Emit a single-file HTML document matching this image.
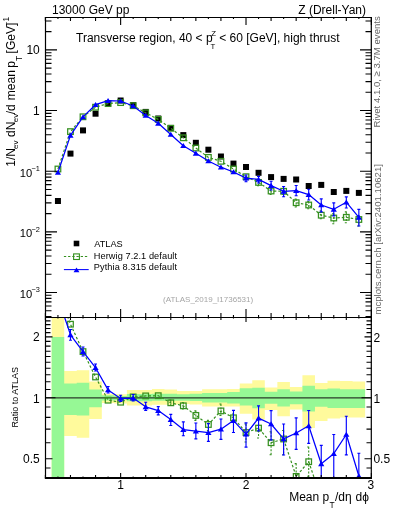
<!DOCTYPE html><html><head><meta charset="utf-8"><style>html,body{margin:0;padding:0;background:#fff;overflow:hidden}svg{display:block;will-change:transform}text{font-family:"Liberation Sans",sans-serif}</style></head><body>
<svg width="393" height="512" viewBox="0 0 393 512">
<defs><clipPath id="cm"><rect x="45.5" y="17.0" width="326.0" height="300.0"/></clipPath><clipPath id="cr"><rect x="45.5" y="317.0" width="326.0" height="161.0"/></clipPath></defs>
<g clip-path="url(#cr)">
<path d="M51.67 300.00H64.21V500.00H51.67ZM64.21 371.00H76.75V436.00H64.21ZM76.74 370.20H89.28V437.80H76.74ZM89.28 381.40H101.82V419.00H89.28ZM101.82 393.70H114.36V403.00H101.82ZM114.36 394.20H126.90V403.50H114.36ZM126.90 390.10H139.44V405.60H126.90ZM139.43 390.10H151.97V405.60H139.43ZM151.97 389.00H164.51V404.70H151.97ZM164.51 389.60H177.05V404.70H164.51ZM177.05 391.00H189.59V404.00H177.05ZM189.59 390.90H202.12V404.50H189.59ZM202.12 389.20H214.66V406.60H202.12ZM214.66 389.20H227.20V406.60H214.66ZM227.20 389.00H239.74V406.60H227.20ZM239.74 383.40H252.28V413.80H239.74ZM252.28 380.30H264.81V419.50H252.28ZM264.82 387.50H277.35V410.00H264.82ZM277.35 382.10H289.89V416.30H277.35ZM289.89 386.90H302.43V409.60H289.89ZM302.43 375.20H314.97V428.00H302.43ZM314.97 383.00H327.50V421.00H314.97ZM327.50 380.80H340.04V418.50H327.50ZM340.04 381.00H352.58V417.40H340.04ZM352.58 381.50H365.12V417.40H352.58Z" fill="#fffa9c"/>
<path d="M51.67 337.00H64.21V500.00H51.67ZM64.21 383.40H76.75V415.00H64.21ZM76.74 382.80H89.28V415.40H76.74ZM89.28 389.50H101.82V407.30H89.28ZM101.82 395.20H114.36V400.50H101.82ZM114.36 396.00H126.90V400.00H114.36ZM126.90 394.00H139.44V401.20H126.90ZM139.43 394.00H151.97V401.20H139.43ZM151.97 393.70H164.51V400.80H151.97ZM164.51 393.70H177.05V400.80H164.51ZM177.05 394.20H189.59V400.80H177.05ZM189.59 393.70H202.12V401.00H189.59ZM202.12 392.90H214.66V402.50H202.12ZM214.66 392.90H227.20V402.50H214.66ZM227.20 392.00H239.74V403.50H227.20ZM239.74 388.20H252.28V405.60H239.74ZM252.28 387.80H264.81V408.30H252.28ZM264.82 391.70H277.35V403.80H264.82ZM277.35 389.20H289.89V406.50H277.35ZM289.89 391.40H302.43V404.20H289.89ZM302.43 385.80H314.97V411.50H302.43ZM314.97 389.30H327.50V406.80H314.97ZM327.50 388.60H340.04V408.00H327.50ZM340.04 389.30H352.58V408.00H340.04ZM352.58 389.30H365.12V408.00H352.58Z" fill="#96f895"/>
<line x1="45.5" y1="397.8" x2="371.5" y2="397.8" stroke="#2a3a2a" stroke-width="1.2"/>
</g>
<g clip-path="url(#cr)">
<path d="M170.78 400.00V405.50M169.28 400.00h3M169.28 405.50h3" stroke="#35901f" stroke-width="1.1" fill="none" stroke-dasharray="2,1.5"/>
<path d="M183.32 402.50V409.00M181.82 402.50h3M181.82 409.00h3" stroke="#35901f" stroke-width="1.1" fill="none" stroke-dasharray="2,1.5"/>
<path d="M195.86 410.90V420.40M194.36 410.90h3M194.36 420.40h3" stroke="#35901f" stroke-width="1.1" fill="none" stroke-dasharray="2,1.5"/>
<path d="M208.39 420.40V430.60M206.89 420.40h3M206.89 430.60h3" stroke="#35901f" stroke-width="1.1" fill="none" stroke-dasharray="2,1.5"/>
<path d="M220.93 404.00V415.40M219.43 404.00h3M219.43 415.40h3" stroke="#35901f" stroke-width="1.1" fill="none" stroke-dasharray="2,1.5"/>
<path d="M233.47 414.00V421.60M231.97 414.00h3M231.97 421.60h3" stroke="#35901f" stroke-width="1.1" fill="none" stroke-dasharray="2,1.5"/>
<path d="M246.01 424.00V442.00M244.51 424.00h3M244.51 442.00h3" stroke="#35901f" stroke-width="1.1" fill="none" stroke-dasharray="2,1.5"/>
<path d="M258.55 420.00V438.00M257.05 420.00h3M257.05 438.00h3" stroke="#35901f" stroke-width="1.1" fill="none" stroke-dasharray="2,1.5"/>
<path d="M271.08 431.80V454.70M269.58 431.80h3M269.58 454.70h3" stroke="#35901f" stroke-width="1.1" fill="none" stroke-dasharray="2,1.5"/>
<path d="M283.62 430.50V454.70M282.12 430.50h3M282.12 454.70h3" stroke="#35901f" stroke-width="1.1" fill="none" stroke-dasharray="2,1.5"/>
<path d="M296.16 463.60V490.00M294.66 463.60h3M294.66 490.00h3" stroke="#35901f" stroke-width="1.1" fill="none" stroke-dasharray="2,1.5"/>
<path d="M308.70 447.00V476.30M307.20 447.00h3M307.20 476.30h3" stroke="#35901f" stroke-width="1.1" fill="none" stroke-dasharray="2,1.5"/>
<polyline points="57.94,291.00 70.48,324.20 83.01,351.60 95.55,377.00 108.09,400.20 120.63,402.20 133.17,396.90 145.70,395.90 158.24,395.70 170.78,402.80 183.32,405.80 195.86,415.40 208.39,424.50 220.93,410.90 233.47,417.80 246.01,432.60 258.55,428.10 271.08,442.70 283.62,439.00 296.16,476.40 308.70,461.70 321.24,498.70 333.77,485.00 346.31,485.00 358.85,490.00" fill="none" stroke="#35901f" stroke-width="1.2" stroke-dasharray="2.5,2" stroke-linejoin="round"/>
<rect x="55.14" y="288.20" width="5.60" height="5.60" fill="none" stroke="#35901f" stroke-width="1.25"/>
<rect x="67.68" y="321.40" width="5.60" height="5.60" fill="none" stroke="#35901f" stroke-width="1.25"/>
<rect x="80.21" y="348.80" width="5.60" height="5.60" fill="none" stroke="#35901f" stroke-width="1.25"/>
<rect x="92.75" y="374.20" width="5.60" height="5.60" fill="none" stroke="#35901f" stroke-width="1.25"/>
<rect x="105.29" y="397.40" width="5.60" height="5.60" fill="none" stroke="#35901f" stroke-width="1.25"/>
<rect x="117.83" y="399.40" width="5.60" height="5.60" fill="none" stroke="#35901f" stroke-width="1.25"/>
<rect x="130.37" y="394.10" width="5.60" height="5.60" fill="none" stroke="#35901f" stroke-width="1.25"/>
<rect x="142.90" y="393.10" width="5.60" height="5.60" fill="none" stroke="#35901f" stroke-width="1.25"/>
<rect x="155.44" y="392.90" width="5.60" height="5.60" fill="none" stroke="#35901f" stroke-width="1.25"/>
<rect x="167.98" y="400.00" width="5.60" height="5.60" fill="none" stroke="#35901f" stroke-width="1.25"/>
<rect x="180.52" y="403.00" width="5.60" height="5.60" fill="none" stroke="#35901f" stroke-width="1.25"/>
<rect x="193.06" y="412.60" width="5.60" height="5.60" fill="none" stroke="#35901f" stroke-width="1.25"/>
<rect x="205.59" y="421.70" width="5.60" height="5.60" fill="none" stroke="#35901f" stroke-width="1.25"/>
<rect x="218.13" y="408.10" width="5.60" height="5.60" fill="none" stroke="#35901f" stroke-width="1.25"/>
<rect x="230.67" y="415.00" width="5.60" height="5.60" fill="none" stroke="#35901f" stroke-width="1.25"/>
<rect x="243.21" y="429.80" width="5.60" height="5.60" fill="none" stroke="#35901f" stroke-width="1.25"/>
<rect x="255.75" y="425.30" width="5.60" height="5.60" fill="none" stroke="#35901f" stroke-width="1.25"/>
<rect x="268.28" y="439.90" width="5.60" height="5.60" fill="none" stroke="#35901f" stroke-width="1.25"/>
<rect x="280.82" y="436.20" width="5.60" height="5.60" fill="none" stroke="#35901f" stroke-width="1.25"/>
<rect x="293.36" y="473.60" width="5.60" height="5.60" fill="none" stroke="#35901f" stroke-width="1.25"/>
<rect x="305.90" y="458.90" width="5.60" height="5.60" fill="none" stroke="#35901f" stroke-width="1.25"/>
<rect x="318.44" y="495.90" width="5.60" height="5.60" fill="none" stroke="#35901f" stroke-width="1.25"/>
<rect x="330.97" y="482.20" width="5.60" height="5.60" fill="none" stroke="#35901f" stroke-width="1.25"/>
<rect x="343.51" y="482.20" width="5.60" height="5.60" fill="none" stroke="#35901f" stroke-width="1.25"/>
<rect x="356.05" y="487.20" width="5.60" height="5.60" fill="none" stroke="#35901f" stroke-width="1.25"/>
<path d="M70.48 329.50V340.20M68.98 329.50h3M68.98 340.20h3" stroke="#0000ff" stroke-width="1.15" fill="none"/>
<path d="M83.01 347.00V356.00M81.51 347.00h3M81.51 356.00h3" stroke="#0000ff" stroke-width="1.15" fill="none"/>
<path d="M95.55 364.00V371.00M94.05 364.00h3M94.05 371.00h3" stroke="#0000ff" stroke-width="1.15" fill="none"/>
<path d="M108.09 386.50V393.00M106.59 386.50h3M106.59 393.00h3" stroke="#0000ff" stroke-width="1.15" fill="none"/>
<path d="M120.63 395.20V401.30M119.13 395.20h3M119.13 401.30h3" stroke="#0000ff" stroke-width="1.15" fill="none"/>
<path d="M133.17 394.50V400.90M131.67 394.50h3M131.67 400.90h3" stroke="#0000ff" stroke-width="1.15" fill="none"/>
<path d="M145.70 402.20V410.40M144.20 402.20h3M144.20 410.40h3" stroke="#0000ff" stroke-width="1.15" fill="none"/>
<path d="M158.24 406.60V414.90M156.74 406.60h3M156.74 414.90h3" stroke="#0000ff" stroke-width="1.15" fill="none"/>
<path d="M170.78 414.30V425.50M169.28 414.30h3M169.28 425.50h3" stroke="#0000ff" stroke-width="1.15" fill="none"/>
<path d="M183.32 421.90V435.70M181.82 421.90h3M181.82 435.70h3" stroke="#0000ff" stroke-width="1.15" fill="none"/>
<path d="M195.86 423.00V438.80M194.36 423.00h3M194.36 438.80h3" stroke="#0000ff" stroke-width="1.15" fill="none"/>
<path d="M208.39 423.50V441.40M206.89 423.50h3M206.89 441.40h3" stroke="#0000ff" stroke-width="1.15" fill="none"/>
<path d="M220.93 419.00V439.40M219.43 419.00h3M219.43 439.40h3" stroke="#0000ff" stroke-width="1.15" fill="none"/>
<path d="M233.47 410.30V432.50M231.97 410.30h3M231.97 432.50h3" stroke="#0000ff" stroke-width="1.15" fill="none"/>
<path d="M246.01 422.80V447.10M244.51 422.80h3M244.51 447.10h3" stroke="#0000ff" stroke-width="1.15" fill="none"/>
<path d="M258.55 405.80V431.00M257.05 405.80h3M257.05 431.00h3" stroke="#0000ff" stroke-width="1.15" fill="none"/>
<path d="M271.08 410.60V439.80M269.58 410.60h3M269.58 439.80h3" stroke="#0000ff" stroke-width="1.15" fill="none"/>
<path d="M283.62 424.00V455.00M282.12 424.00h3M282.12 455.00h3" stroke="#0000ff" stroke-width="1.15" fill="none"/>
<path d="M296.16 417.90V449.30M294.66 417.90h3M294.66 449.30h3" stroke="#0000ff" stroke-width="1.15" fill="none"/>
<path d="M308.70 410.50V443.40M307.20 410.50h3M307.20 443.40h3" stroke="#0000ff" stroke-width="1.15" fill="none"/>
<path d="M321.24 445.40V490.00M319.74 445.40h3M319.74 490.00h3" stroke="#0000ff" stroke-width="1.15" fill="none"/>
<path d="M333.77 434.50V490.00M332.27 434.50h3M332.27 490.00h3" stroke="#0000ff" stroke-width="1.15" fill="none"/>
<path d="M346.31 416.20V454.80M344.81 416.20h3M344.81 454.80h3" stroke="#0000ff" stroke-width="1.15" fill="none"/>
<path d="M358.85 453.20V495.00M357.35 453.20h3M357.35 495.00h3" stroke="#0000ff" stroke-width="1.15" fill="none"/>
<polyline points="57.94,297.50 70.48,334.80 83.01,351.60 95.55,367.70 108.09,389.90 120.63,398.40 133.17,398.10 145.70,406.80 158.24,410.60 170.78,419.60 183.32,429.60 195.86,431.20 208.39,432.70 220.93,429.20 233.47,420.60 246.01,434.20 258.55,418.10 271.08,424.00 283.62,438.90 296.16,433.00 308.70,425.80 321.24,463.80 333.77,453.70 346.31,434.50 358.85,476.00" fill="none" stroke="#0000ff" stroke-width="1.25" stroke-linejoin="round"/>
<path d="M57.94 294.75L61.04 299.84L54.84 299.84Z" fill="#0000ff"/>
<path d="M70.48 332.05L73.58 337.14L67.38 337.14Z" fill="#0000ff"/>
<path d="M83.01 348.85L86.11 353.94L79.91 353.94Z" fill="#0000ff"/>
<path d="M95.55 364.95L98.65 370.04L92.45 370.04Z" fill="#0000ff"/>
<path d="M108.09 387.15L111.19 392.24L104.99 392.24Z" fill="#0000ff"/>
<path d="M120.63 395.65L123.73 400.74L117.53 400.74Z" fill="#0000ff"/>
<path d="M133.17 395.35L136.27 400.44L130.07 400.44Z" fill="#0000ff"/>
<path d="M145.70 404.05L148.80 409.14L142.60 409.14Z" fill="#0000ff"/>
<path d="M158.24 407.85L161.34 412.94L155.14 412.94Z" fill="#0000ff"/>
<path d="M170.78 416.85L173.88 421.94L167.68 421.94Z" fill="#0000ff"/>
<path d="M183.32 426.85L186.42 431.94L180.22 431.94Z" fill="#0000ff"/>
<path d="M195.86 428.45L198.96 433.54L192.76 433.54Z" fill="#0000ff"/>
<path d="M208.39 429.95L211.49 435.04L205.29 435.04Z" fill="#0000ff"/>
<path d="M220.93 426.45L224.03 431.54L217.83 431.54Z" fill="#0000ff"/>
<path d="M233.47 417.85L236.57 422.94L230.37 422.94Z" fill="#0000ff"/>
<path d="M246.01 431.45L249.11 436.54L242.91 436.54Z" fill="#0000ff"/>
<path d="M258.55 415.35L261.65 420.44L255.45 420.44Z" fill="#0000ff"/>
<path d="M271.08 421.25L274.18 426.34L267.98 426.34Z" fill="#0000ff"/>
<path d="M283.62 436.15L286.72 441.24L280.52 441.24Z" fill="#0000ff"/>
<path d="M296.16 430.25L299.26 435.34L293.06 435.34Z" fill="#0000ff"/>
<path d="M308.70 423.05L311.80 428.14L305.60 428.14Z" fill="#0000ff"/>
<path d="M321.24 461.05L324.34 466.14L318.14 466.14Z" fill="#0000ff"/>
<path d="M333.77 450.95L336.87 456.04L330.67 456.04Z" fill="#0000ff"/>
<path d="M346.31 431.75L349.41 436.84L343.21 436.84Z" fill="#0000ff"/>
<path d="M358.85 473.25L361.95 478.34L355.75 478.34Z" fill="#0000ff"/>
</g>
<g clip-path="url(#cm)">
<rect x="54.94" y="198.00" width="6.00" height="6.00" fill="#000"/>
<rect x="67.48" y="150.60" width="6.00" height="6.00" fill="#000"/>
<rect x="80.01" y="127.40" width="6.00" height="6.00" fill="#000"/>
<rect x="92.55" y="110.70" width="6.00" height="6.00" fill="#000"/>
<rect x="105.09" y="100.20" width="6.00" height="6.00" fill="#000"/>
<rect x="117.63" y="97.50" width="6.00" height="6.00" fill="#000"/>
<rect x="130.17" y="102.10" width="6.00" height="6.00" fill="#000"/>
<rect x="142.70" y="108.90" width="6.00" height="6.00" fill="#000"/>
<rect x="155.24" y="115.50" width="6.00" height="6.00" fill="#000"/>
<rect x="167.78" y="124.90" width="6.00" height="6.00" fill="#000"/>
<rect x="180.32" y="132.10" width="6.00" height="6.00" fill="#000"/>
<rect x="192.86" y="139.80" width="6.00" height="6.00" fill="#000"/>
<rect x="205.39" y="146.70" width="6.00" height="6.00" fill="#000"/>
<rect x="217.93" y="153.50" width="6.00" height="6.00" fill="#000"/>
<rect x="230.47" y="160.60" width="6.00" height="6.00" fill="#000"/>
<rect x="243.01" y="164.00" width="6.00" height="6.00" fill="#000"/>
<rect x="255.55" y="169.80" width="6.00" height="6.00" fill="#000"/>
<rect x="268.08" y="174.10" width="6.00" height="6.00" fill="#000"/>
<rect x="280.62" y="175.90" width="6.00" height="6.00" fill="#000"/>
<rect x="293.16" y="176.50" width="6.00" height="6.00" fill="#000"/>
<rect x="305.70" y="183.00" width="6.00" height="6.00" fill="#000"/>
<rect x="318.24" y="181.90" width="6.00" height="6.00" fill="#000"/>
<rect x="330.77" y="189.00" width="6.00" height="6.00" fill="#000"/>
<rect x="343.31" y="187.90" width="6.00" height="6.00" fill="#000"/>
<rect x="355.85" y="189.90" width="6.00" height="6.00" fill="#000"/>
<path d="M258.55 180.00V185.60M257.05 180.00h3M257.05 185.60h3" stroke="#35901f" stroke-width="1.1" fill="none" stroke-dasharray="2,1.5"/>
<path d="M271.08 187.40V194.50M269.58 187.40h3M269.58 194.50h3" stroke="#35901f" stroke-width="1.1" fill="none" stroke-dasharray="2,1.5"/>
<path d="M283.62 188.30V194.50M282.12 188.30h3M282.12 194.50h3" stroke="#35901f" stroke-width="1.1" fill="none" stroke-dasharray="2,1.5"/>
<path d="M296.16 199.00V207.00M294.66 199.00h3M294.66 207.00h3" stroke="#35901f" stroke-width="1.1" fill="none" stroke-dasharray="2,1.5"/>
<path d="M308.70 201.50V208.70M307.20 201.50h3M307.20 208.70h3" stroke="#35901f" stroke-width="1.1" fill="none" stroke-dasharray="2,1.5"/>
<path d="M321.24 210.80V218.80M319.74 210.80h3M319.74 218.80h3" stroke="#35901f" stroke-width="1.1" fill="none" stroke-dasharray="2,1.5"/>
<path d="M333.77 213.60V223.80M332.27 213.60h3M332.27 223.80h3" stroke="#35901f" stroke-width="1.1" fill="none" stroke-dasharray="2,1.5"/>
<path d="M346.31 211.90V222.70M344.81 211.90h3M344.81 222.70h3" stroke="#35901f" stroke-width="1.1" fill="none" stroke-dasharray="2,1.5"/>
<path d="M358.85 215.80V226.00M357.35 215.80h3M357.35 226.00h3" stroke="#35901f" stroke-width="1.1" fill="none" stroke-dasharray="2,1.5"/>
<polyline points="57.94,169.00 70.48,131.60 83.01,116.80 95.55,107.20 108.09,103.60 120.63,102.60 133.17,105.70 145.70,112.80 158.24,119.40 170.78,128.30 183.32,137.80 195.86,148.00 208.39,157.40 220.93,161.30 233.47,169.00 246.01,176.70 258.55,182.40 271.08,191.00 283.62,191.30 296.16,202.70 308.70,205.00 321.24,215.20 333.77,218.00 346.31,217.30 358.85,219.50" fill="none" stroke="#35901f" stroke-width="1.2" stroke-dasharray="2.5,2" stroke-linejoin="round"/>
<rect x="55.14" y="166.20" width="5.60" height="5.60" fill="none" stroke="#35901f" stroke-width="1.25"/>
<rect x="67.68" y="128.80" width="5.60" height="5.60" fill="none" stroke="#35901f" stroke-width="1.25"/>
<rect x="80.21" y="114.00" width="5.60" height="5.60" fill="none" stroke="#35901f" stroke-width="1.25"/>
<rect x="92.75" y="104.40" width="5.60" height="5.60" fill="none" stroke="#35901f" stroke-width="1.25"/>
<rect x="105.29" y="100.80" width="5.60" height="5.60" fill="none" stroke="#35901f" stroke-width="1.25"/>
<rect x="117.83" y="99.80" width="5.60" height="5.60" fill="none" stroke="#35901f" stroke-width="1.25"/>
<rect x="130.37" y="102.90" width="5.60" height="5.60" fill="none" stroke="#35901f" stroke-width="1.25"/>
<rect x="142.90" y="110.00" width="5.60" height="5.60" fill="none" stroke="#35901f" stroke-width="1.25"/>
<rect x="155.44" y="116.60" width="5.60" height="5.60" fill="none" stroke="#35901f" stroke-width="1.25"/>
<rect x="167.98" y="125.50" width="5.60" height="5.60" fill="none" stroke="#35901f" stroke-width="1.25"/>
<rect x="180.52" y="135.00" width="5.60" height="5.60" fill="none" stroke="#35901f" stroke-width="1.25"/>
<rect x="193.06" y="145.20" width="5.60" height="5.60" fill="none" stroke="#35901f" stroke-width="1.25"/>
<rect x="205.59" y="154.60" width="5.60" height="5.60" fill="none" stroke="#35901f" stroke-width="1.25"/>
<rect x="218.13" y="158.50" width="5.60" height="5.60" fill="none" stroke="#35901f" stroke-width="1.25"/>
<rect x="230.67" y="166.20" width="5.60" height="5.60" fill="none" stroke="#35901f" stroke-width="1.25"/>
<rect x="243.21" y="173.90" width="5.60" height="5.60" fill="none" stroke="#35901f" stroke-width="1.25"/>
<rect x="255.75" y="179.60" width="5.60" height="5.60" fill="none" stroke="#35901f" stroke-width="1.25"/>
<rect x="268.28" y="188.20" width="5.60" height="5.60" fill="none" stroke="#35901f" stroke-width="1.25"/>
<rect x="280.82" y="188.50" width="5.60" height="5.60" fill="none" stroke="#35901f" stroke-width="1.25"/>
<rect x="293.36" y="199.90" width="5.60" height="5.60" fill="none" stroke="#35901f" stroke-width="1.25"/>
<rect x="305.90" y="202.20" width="5.60" height="5.60" fill="none" stroke="#35901f" stroke-width="1.25"/>
<rect x="318.44" y="212.40" width="5.60" height="5.60" fill="none" stroke="#35901f" stroke-width="1.25"/>
<rect x="330.97" y="215.20" width="5.60" height="5.60" fill="none" stroke="#35901f" stroke-width="1.25"/>
<rect x="343.51" y="214.50" width="5.60" height="5.60" fill="none" stroke="#35901f" stroke-width="1.25"/>
<rect x="356.05" y="216.70" width="5.60" height="5.60" fill="none" stroke="#35901f" stroke-width="1.25"/>
<path d="M246.01 175.00V181.70M244.51 175.00h3M244.51 181.70h3" stroke="#0000ff" stroke-width="1.15" fill="none"/>
<path d="M258.55 176.40V183.00M257.05 176.40h3M257.05 183.00h3" stroke="#0000ff" stroke-width="1.15" fill="none"/>
<path d="M271.08 181.20V190.00M269.58 181.20h3M269.58 190.00h3" stroke="#0000ff" stroke-width="1.15" fill="none"/>
<path d="M283.62 186.50V196.70M282.12 186.50h3M282.12 196.70h3" stroke="#0000ff" stroke-width="1.15" fill="none"/>
<path d="M296.16 185.50V195.70M294.66 185.50h3M294.66 195.70h3" stroke="#0000ff" stroke-width="1.15" fill="none"/>
<path d="M308.70 189.20V200.00M307.20 189.20h3M307.20 200.00h3" stroke="#0000ff" stroke-width="1.15" fill="none"/>
<path d="M321.24 198.90V211.90M319.74 198.90h3M319.74 211.90h3" stroke="#0000ff" stroke-width="1.15" fill="none"/>
<path d="M333.77 202.80V215.80M332.27 202.80h3M332.27 215.80h3" stroke="#0000ff" stroke-width="1.15" fill="none"/>
<path d="M346.31 196.80V208.00M344.81 196.80h3M344.81 208.00h3" stroke="#0000ff" stroke-width="1.15" fill="none"/>
<path d="M358.85 209.30V226.00M357.35 209.30h3M357.35 226.00h3" stroke="#0000ff" stroke-width="1.15" fill="none"/>
<polyline points="57.94,172.50 70.48,135.40 83.01,116.90 95.55,104.70 108.09,100.70 120.63,101.00 133.17,106.00 145.70,115.50 158.24,123.30 170.78,134.50 183.32,145.70 195.86,153.30 208.39,161.00 220.93,167.20 233.47,172.00 246.01,178.10 258.55,179.40 271.08,185.60 283.62,191.30 296.16,190.70 308.70,194.60 321.24,205.00 333.77,209.30 346.31,202.20 358.85,217.30" fill="none" stroke="#0000ff" stroke-width="1.25" stroke-linejoin="round"/>
<path d="M57.94 169.75L61.04 174.84L54.84 174.84Z" fill="#0000ff"/>
<path d="M70.48 132.65L73.58 137.74L67.38 137.74Z" fill="#0000ff"/>
<path d="M83.01 114.15L86.11 119.24L79.91 119.24Z" fill="#0000ff"/>
<path d="M95.55 101.95L98.65 107.04L92.45 107.04Z" fill="#0000ff"/>
<path d="M108.09 97.95L111.19 103.04L104.99 103.04Z" fill="#0000ff"/>
<path d="M120.63 98.25L123.73 103.34L117.53 103.34Z" fill="#0000ff"/>
<path d="M133.17 103.25L136.27 108.34L130.07 108.34Z" fill="#0000ff"/>
<path d="M145.70 112.75L148.80 117.84L142.60 117.84Z" fill="#0000ff"/>
<path d="M158.24 120.55L161.34 125.64L155.14 125.64Z" fill="#0000ff"/>
<path d="M170.78 131.75L173.88 136.84L167.68 136.84Z" fill="#0000ff"/>
<path d="M183.32 142.95L186.42 148.04L180.22 148.04Z" fill="#0000ff"/>
<path d="M195.86 150.55L198.96 155.64L192.76 155.64Z" fill="#0000ff"/>
<path d="M208.39 158.25L211.49 163.34L205.29 163.34Z" fill="#0000ff"/>
<path d="M220.93 164.45L224.03 169.54L217.83 169.54Z" fill="#0000ff"/>
<path d="M233.47 169.25L236.57 174.34L230.37 174.34Z" fill="#0000ff"/>
<path d="M246.01 175.35L249.11 180.44L242.91 180.44Z" fill="#0000ff"/>
<path d="M258.55 176.65L261.65 181.74L255.45 181.74Z" fill="#0000ff"/>
<path d="M271.08 182.85L274.18 187.94L267.98 187.94Z" fill="#0000ff"/>
<path d="M283.62 188.55L286.72 193.64L280.52 193.64Z" fill="#0000ff"/>
<path d="M296.16 187.95L299.26 193.04L293.06 193.04Z" fill="#0000ff"/>
<path d="M308.70 191.85L311.80 196.94L305.60 196.94Z" fill="#0000ff"/>
<path d="M321.24 202.25L324.34 207.34L318.14 207.34Z" fill="#0000ff"/>
<path d="M333.77 206.55L336.87 211.64L330.67 211.64Z" fill="#0000ff"/>
<path d="M346.31 199.45L349.41 204.54L343.21 204.54Z" fill="#0000ff"/>
<path d="M358.85 214.55L361.95 219.64L355.75 219.64Z" fill="#0000ff"/>
</g>
<path d="M45.5 17.5H371.3M45.5 317.5H371.3" stroke="#000" stroke-width="1.15" fill="none"/>
<path d="M45.5 16.9V478.9M371.3 16.9V478.9" stroke="#000" stroke-width="1.2" fill="none"/>
<path d="M44.9 478H371.9" stroke="#000" stroke-width="1.9" fill="none"/>
<path d="M45.5 316.64h6.0M371.5 316.64h-6.0M45.5 310.76h6.0M371.5 310.76h-6.0M45.5 305.96h6.0M371.5 305.96h-6.0M45.5 301.89h6.0M371.5 301.89h-6.0M45.5 298.38h6.0M371.5 298.38h-6.0M45.5 295.28h6.0M371.5 295.28h-6.0M45.5 292.50h11.5M371.5 292.50h-11.5M45.5 274.24h6.0M371.5 274.24h-6.0M45.5 263.56h6.0M371.5 263.56h-6.0M45.5 255.99h6.0M371.5 255.99h-6.0M45.5 250.11h6.0M371.5 250.11h-6.0M45.5 245.31h6.0M371.5 245.31h-6.0M45.5 241.24h6.0M371.5 241.24h-6.0M45.5 237.73h6.0M371.5 237.73h-6.0M45.5 234.63h6.0M371.5 234.63h-6.0M45.5 231.85h11.5M371.5 231.85h-11.5M45.5 213.59h6.0M371.5 213.59h-6.0M45.5 202.91h6.0M371.5 202.91h-6.0M45.5 195.34h6.0M371.5 195.34h-6.0M45.5 189.46h6.0M371.5 189.46h-6.0M45.5 184.66h6.0M371.5 184.66h-6.0M45.5 180.59h6.0M371.5 180.59h-6.0M45.5 177.08h6.0M371.5 177.08h-6.0M45.5 173.98h6.0M371.5 173.98h-6.0M45.5 171.20h11.5M371.5 171.20h-11.5M45.5 152.94h6.0M371.5 152.94h-6.0M45.5 142.26h6.0M371.5 142.26h-6.0M45.5 134.69h6.0M371.5 134.69h-6.0M45.5 128.81h6.0M371.5 128.81h-6.0M45.5 124.01h6.0M371.5 124.01h-6.0M45.5 119.94h6.0M371.5 119.94h-6.0M45.5 116.43h6.0M371.5 116.43h-6.0M45.5 113.33h6.0M371.5 113.33h-6.0M45.5 110.55h11.5M371.5 110.55h-11.5M45.5 92.29h6.0M371.5 92.29h-6.0M45.5 81.61h6.0M371.5 81.61h-6.0M45.5 74.04h6.0M371.5 74.04h-6.0M45.5 68.16h6.0M371.5 68.16h-6.0M45.5 63.36h6.0M371.5 63.36h-6.0M45.5 59.29h6.0M371.5 59.29h-6.0M45.5 55.78h6.0M371.5 55.78h-6.0M45.5 52.68h6.0M371.5 52.68h-6.0M45.5 49.90h11.5M371.5 49.90h-11.5M45.5 31.64h6.0M371.5 31.64h-6.0M45.5 20.96h6.0M371.5 20.96h-6.0M45.5 467.96h5.0M371.5 467.96h-5.0M45.5 458.70h7.0M371.5 458.70h-7.0M45.5 442.68h5.0M371.5 442.68h-5.0M45.5 429.14h5.0M371.5 429.14h-5.0M45.5 417.41h5.0M371.5 417.41h-5.0M45.5 407.06h5.0M371.5 407.06h-5.0M45.5 397.80h10.0M371.5 397.80h-10.0M45.5 389.43h5.0M371.5 389.43h-5.0M45.5 381.78h5.0M371.5 381.78h-5.0M45.5 374.75h5.0M371.5 374.75h-5.0M45.5 368.24h5.0M371.5 368.24h-5.0M45.5 362.18h5.0M371.5 362.18h-5.0M45.5 356.51h5.0M371.5 356.51h-5.0M45.5 351.18h5.0M371.5 351.18h-5.0M45.5 346.16h5.0M371.5 346.16h-5.0M45.5 341.41h5.0M371.5 341.41h-5.0M45.5 336.90h7.0M371.5 336.90h-7.0M45.5 332.61h5.0M371.5 332.61h-5.0M45.5 328.53h5.0M371.5 328.53h-5.0M45.5 324.62h5.0M371.5 324.62h-5.0M45.5 320.88h5.0M371.5 320.88h-5.0M45.40 17.0v4.0M45.40 317.0v-4.0M45.40 317.0v3.0M45.40 478.0v-3.0M57.94 17.0v2.0M57.94 317.0v-2.0M57.94 317.0v1.5M57.94 478.0v-1.5M70.48 17.0v4.0M70.48 317.0v-4.0M70.48 317.0v3.0M70.48 478.0v-3.0M83.01 17.0v2.0M83.01 317.0v-2.0M83.01 317.0v1.5M83.01 478.0v-1.5M95.55 17.0v4.0M95.55 317.0v-4.0M95.55 317.0v3.0M95.55 478.0v-3.0M108.09 17.0v2.0M108.09 317.0v-2.0M108.09 317.0v1.5M108.09 478.0v-1.5M120.63 17.0v8.0M120.63 317.0v-8.0M120.63 317.0v5.0M120.63 478.0v-5.0M133.17 17.0v2.0M133.17 317.0v-2.0M133.17 317.0v1.5M133.17 478.0v-1.5M145.70 17.0v4.0M145.70 317.0v-4.0M145.70 317.0v3.0M145.70 478.0v-3.0M158.24 17.0v2.0M158.24 317.0v-2.0M158.24 317.0v1.5M158.24 478.0v-1.5M170.78 17.0v4.0M170.78 317.0v-4.0M170.78 317.0v3.0M170.78 478.0v-3.0M183.32 17.0v2.0M183.32 317.0v-2.0M183.32 317.0v1.5M183.32 478.0v-1.5M195.86 17.0v4.0M195.86 317.0v-4.0M195.86 317.0v3.0M195.86 478.0v-3.0M208.39 17.0v2.0M208.39 317.0v-2.0M208.39 317.0v1.5M208.39 478.0v-1.5M220.93 17.0v4.0M220.93 317.0v-4.0M220.93 317.0v3.0M220.93 478.0v-3.0M233.47 17.0v2.0M233.47 317.0v-2.0M233.47 317.0v1.5M233.47 478.0v-1.5M246.01 17.0v8.0M246.01 317.0v-8.0M246.01 317.0v5.0M246.01 478.0v-5.0M258.55 17.0v2.0M258.55 317.0v-2.0M258.55 317.0v1.5M258.55 478.0v-1.5M271.08 17.0v4.0M271.08 317.0v-4.0M271.08 317.0v3.0M271.08 478.0v-3.0M283.62 17.0v2.0M283.62 317.0v-2.0M283.62 317.0v1.5M283.62 478.0v-1.5M296.16 17.0v4.0M296.16 317.0v-4.0M296.16 317.0v3.0M296.16 478.0v-3.0M308.70 17.0v2.0M308.70 317.0v-2.0M308.70 317.0v1.5M308.70 478.0v-1.5M321.24 17.0v4.0M321.24 317.0v-4.0M321.24 317.0v3.0M321.24 478.0v-3.0M333.77 17.0v2.0M333.77 317.0v-2.0M333.77 317.0v1.5M333.77 478.0v-1.5M346.31 17.0v4.0M346.31 317.0v-4.0M346.31 317.0v3.0M346.31 478.0v-3.0M358.85 17.0v2.0M358.85 317.0v-2.0M358.85 317.0v1.5M358.85 478.0v-1.5M371.39 17.0v8.0M371.39 317.0v-8.0M371.39 317.0v5.0M371.39 478.0v-5.0" stroke="#000" stroke-width="1.1" fill="none"/>
<text x="52" y="14.2" font-size="12">13000 GeV pp</text>
<text x="366" y="14.2" font-size="12" text-anchor="end">Z (Drell-Yan)</text>
<text x="76" y="41.7" font-size="12">Transverse region, 40 &lt; p</text><text x="211.2" y="36.2" font-size="7.8">Z</text><text x="210.6" y="49" font-size="7.8">T</text><text x="219.2" y="41.7" font-size="12"> &lt; 60 [GeV], high thrust</text>
<text x="39.8" y="54.1" font-size="12" text-anchor="end">10</text>
<text x="39.8" y="114.9" font-size="12" text-anchor="end">1</text>
<text x="32.3" y="176.8" font-size="11.2" text-anchor="end">10</text><text x="31.4" y="171.2" font-size="7.4">&#8722;1</text>
<text x="32.3" y="237.2" font-size="11.2" text-anchor="end">10</text><text x="31.4" y="231.6" font-size="7.4">&#8722;2</text>
<text x="32.3" y="298.0" font-size="11.2" text-anchor="end">10</text><text x="31.4" y="292.4" font-size="7.4">&#8722;3</text>
<text x="39.8" y="341.4" font-size="12" text-anchor="end">2</text>
<text x="39.8" y="402.8" font-size="12" text-anchor="end">1</text>
<text x="39.8" y="462.8" font-size="12" text-anchor="end">0.5</text>
<text x="373.4" y="341.5" font-size="12">2</text>
<text x="373.4" y="403.0" font-size="12">1</text>
<text x="373.4" y="462.9" font-size="12">0.5</text>
<text x="120.6" y="488.8" font-size="12" text-anchor="middle">1</text>
<text x="246.2" y="488.8" font-size="12" text-anchor="middle">2</text>
<text x="374.2" y="488.8" font-size="12" text-anchor="end">3</text>
<text x="289.2" y="501.4" font-size="12">Mean p<tspan font-size="8.4" dy="6.3" dx="0.2">T</tspan><tspan dy="-6.3" dx="0.4">/d&#951;</tspan><tspan dx="0.5"> d&#981;</tspan></text>
<g transform="translate(14.9,0) rotate(-90)"><text x="-166.8" y="0.0" font-size="12">1/N</text><text x="-148.9" y="2.7" font-size="8">ev</text><text x="-137.0" y="0.0" font-size="12">dN</text><text x="-122.3" y="2.7" font-size="8">ev</text><text x="-114.3" y="0.0" font-size="12">/d</text><text x="-100.2" y="0.0" font-size="12">mean</text><text x="-67.8" y="0.0" font-size="12">p</text><text x="-61.0" y="6.9" font-size="8.4">T</text><text x="-53.4" y="0.0" font-size="12">[GeV]</text><text x="-26.0" y="-5.5" font-size="7">&#8722;</text><text x="-21.5" y="-5.5" font-size="8.4">1</text></g>
<text transform="translate(18.1,427.6) rotate(-90)" font-size="9.6" textLength="60.5" lengthAdjust="spacingAndGlyphs">Ratio to ATLAS</text>
<text transform="translate(380,127.6) rotate(-90)" font-size="9.6" fill="#666">Rivet 4.1.0, &#8805; 3.7M events</text>
<text transform="translate(380.5,314.5) rotate(-90)" font-size="9.6" fill="#666">mcplots.cern.ch [arXiv:2401.10621]</text>
<text x="163" y="302.3" font-size="8" fill="#a5a5a5">(ATLAS_2019_I1736531)</text>
<rect x="73.7" y="240.7" width="5.6" height="5.6" fill="#000"/>
<text x="94.3" y="247.2" font-size="9.2">ATLAS</text>
<path d="M63.9 256.5H88" stroke="#35901f" stroke-width="1.0" stroke-dasharray="2.3,1.9"/>
<rect x="73.6" y="253.9" width="5.8" height="5.6" fill="none" stroke="#35901f" stroke-width="1.1"/>
<text x="93.8" y="258.5" font-size="9.2" textLength="83.2" lengthAdjust="spacing">Herwig 7.2.1 default</text>
<path d="M63.9 269.6H88.7" stroke="#0000ff" stroke-width="1.05"/>
<path d="M76.50 267.49L79.45 272.33L73.55 272.33Z" fill="#0000ff"/>
<text x="93.8" y="270.4" font-size="9.2" textLength="83.2" lengthAdjust="spacing">Pythia 8.315 default</text>
</svg></body></html>
